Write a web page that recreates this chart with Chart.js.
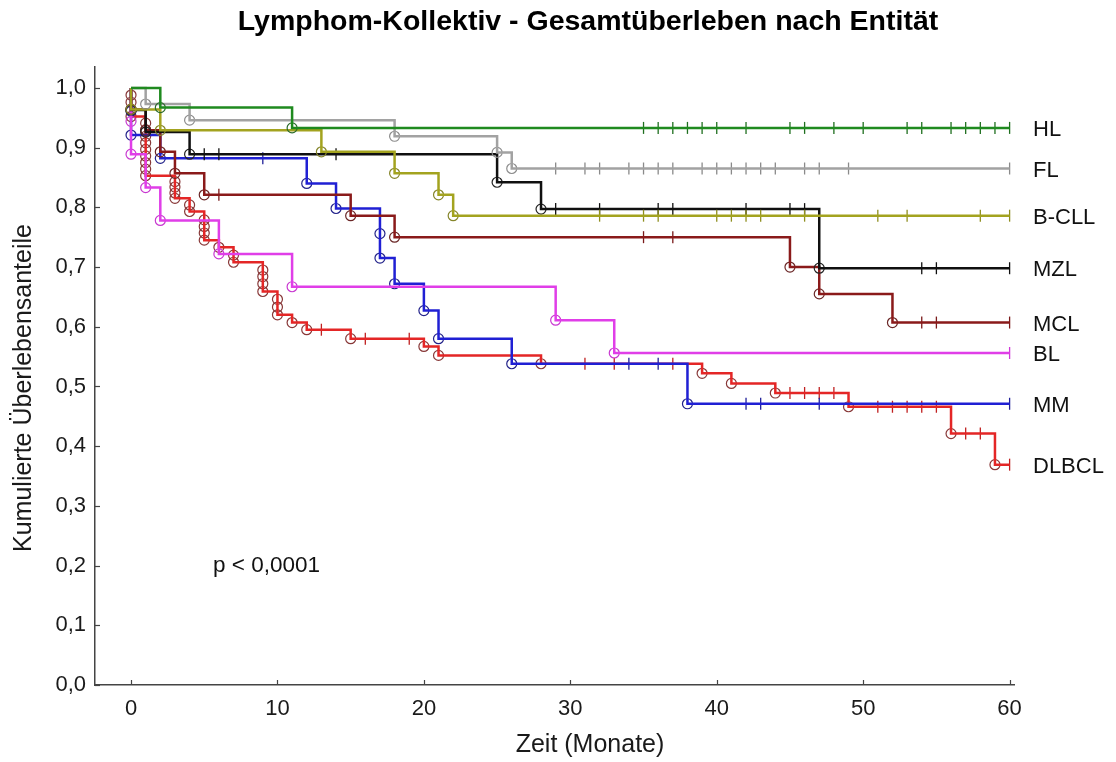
<!DOCTYPE html>
<html>
<head>
<meta charset="utf-8">
<script src="https://cdn.jsdelivr.net/npm/chart.js@4.4.1/dist/chart.umd.min.js"></script>
<style>
  html, body { margin: 0; padding: 0; background: #fff; }
  #wrap { width: 1116px; height: 762px; }
</style>
</head>
<body>
<div id="wrap"><canvas id="kmChart" width="1116" height="762"></canvas></div>
<script>
// Kaplan-Meier overall survival by lymphoma entity (months)
const groups = ['HL', 'FL', 'B-CLL', 'MZL', 'MCL', 'BL', 'MM', 'DLBCL'];
const xTicks = [0, 10, 20, 30, 40, 50, 60];
const yTicks = [0, 0.1, 0.2, 0.3, 0.4, 0.5, 0.6, 0.7, 0.8, 0.9, 1.0];
const yTickLabels = ['0,0', '0,1', '0,2', '0,3', '0,4', '0,5', '0,6', '0,7', '0,8', '0,9', '1,0'];
const followUpEnd = 60;

// event times (one entry per death) and the survival level after each event
const hlTimes = [2, 11];
const hlSurv = [0.967, 0.933];
const hlCensored = [35, 36, 37, 38, 39, 40, 42, 45, 46, 48, 50, 53, 54, 56, 57, 58, 59, 60];

const flTimes = [1, 4, 18, 25, 26];
const flSurv = [0.973, 0.946, 0.919, 0.892, 0.865];
const flCensored = [29, 31, 32, 34, 35, 36, 37, 39, 40, 41, 42, 43, 44, 46, 47, 49, 60];

const cllTimes = [0, 2, 13, 18, 21, 22];
const cllSurv = [0.964, 0.929, 0.893, 0.857, 0.821, 0.786];
const cllCensored = [32, 35, 36, 40, 41, 42, 43, 46, 51, 53, 58, 60];

const mzlTimes = [0, 1, 4, 25, 28, 47];
const mzlSurv = [0.963, 0.926, 0.889, 0.842, 0.797, 0.698];
const mzlCensored = [5, 6, 14, 29, 32, 36, 37, 42, 45, 46, 54, 55, 60];

const mclTimes = [0, 1, 2, 3, 5, 15, 18, 45, 47, 52];
const mclSurv = [0.964, 0.929, 0.893, 0.857, 0.821, 0.786, 0.75, 0.70, 0.655, 0.607];
const mclCensored = [6, 35, 37, 54, 55, 60];

const blTimes = [0, 0, 1, 2, 6, 11, 29, 33];
const blSurv = [0.944, 0.889, 0.833, 0.778, 0.722, 0.667, 0.611, 0.556];
const blCensored = [60];

const mmTimes = [0, 0, 2, 12, 14, 17, 17, 18, 20, 21, 26, 38];
const mmSurv = [0.961, 0.921, 0.882, 0.84, 0.798, 0.756, 0.715, 0.672, 0.627, 0.58, 0.538, 0.471];
const mmCensored = [9, 34, 36, 42, 43, 47, 60];

const dlbclTimes = [0, 0, 0, 0,
  1, 1, 1, 1, 1, 1, 1, 1, 1,
  3, 3, 3, 3, 4, 4, 5, 5, 5, 5, 6, 7, 7,
  9, 9, 9, 9, 10, 10, 10, 11, 12, 15, 20, 21, 28,
  39, 41, 44, 49, 56, 59];
const dlbclSurv = [0.988, 0.976, 0.964, 0.952,
  0.941, 0.930, 0.919, 0.908, 0.897, 0.886, 0.875, 0.864, 0.853,
  0.843, 0.834, 0.824, 0.815, 0.804, 0.793, 0.779, 0.768, 0.757, 0.745, 0.733, 0.720, 0.708,
  0.695, 0.684, 0.672, 0.659, 0.646, 0.633, 0.620, 0.607, 0.595, 0.580, 0.567, 0.552, 0.538,
  0.522, 0.505, 0.489, 0.466, 0.421, 0.369];
const dlbclCensored = [13, 16, 19, 31, 33, 37, 45, 46, 47, 48, 51, 52, 53, 54, 55, 57, 58, 60];

const seriesData = {
  'HL': [hlTimes, hlSurv, hlCensored],
  'FL': [flTimes, flSurv, flCensored],
  'B-CLL': [cllTimes, cllSurv, cllCensored],
  'MZL': [mzlTimes, mzlSurv, mzlCensored],
  'MCL': [mclTimes, mclSurv, mclCensored],
  'BL': [blTimes, blSurv, blCensored],
  'MM': [mmTimes, mmSurv, mmCensored],
  'DLBCL': [dlbclTimes, dlbclSurv, dlbclCensored]
};

const lineColors = {
  'HL': '#1f8a1f', 'FL': '#a2a2a2', 'B-CLL': '#a3a31f', 'MZL': '#101010',
  'MCL': '#8a1a1a', 'BL': '#e03ee8', 'MM': '#2020d4', 'DLBCL': '#e42626'
};
const circleColors = {
  'HL': '#2a6a2a', 'FL': '#8c8c8c', 'B-CLL': '#85852a', 'MZL': '#222222',
  'MCL': '#6a2626', 'BL': '#c838d0', 'MM': '#22228a', 'DLBCL': '#883838'
};
const tickColors = {
  'HL': '#1f6f1f', 'FL': '#8a8a8a', 'B-CLL': '#8f8f20', 'MZL': '#101010',
  'MCL': '#7a1a1a', 'BL': '#d038d8', 'MM': '#20209a', 'DLBCL': '#c02020'
};

function survAt(times, surv, t) {
  let s = 1.0;
  for (let i = 0; i < times.length; i++) {
    if (times[i] <= t) s = surv[i];
  }
  return s;
}

const datasets = [];
groups.forEach(function(name) {
  const [times, surv, cens] = seriesData[name];
  const curve = [{ x: 0, y: 1.0 }];
  times.forEach((t, i) => curve.push({ x: t, y: surv[i] }));
  curve.push({ x: followUpEnd, y: surv[surv.length - 1] });

  datasets.push({
    label: name,
    data: curve,
    stepped: 'before',
    borderColor: lineColors[name],
    borderWidth: 2.5,
    pointRadius: 0,
    fill: false
  });
  datasets.push({
    label: name + ' events',
    data: times.map((t, i) => ({ x: t, y: surv[i] })),
    showLine: false,
    pointStyle: 'circle',
    pointRadius: 5,
    pointBorderWidth: 1.2,
    pointBorderColor: circleColors[name],
    pointBackgroundColor: 'rgba(0,0,0,0)'
  });
  datasets.push({
    label: name + ' censored',
    data: cens.map(t => ({ x: t, y: survAt(times, surv, t) })),
    showLine: false,
    pointStyle: 'line',
    rotation: 90,
    pointRadius: 6,
    pointBorderWidth: 1.3,
    pointBorderColor: tickColors[name]
  });
});

const textFont = "'Liberation Sans', Arial, sans-serif";

// title, axis titles, inward tick marks, group labels at the curve ends, p-value
const kmDecor = {
  id: 'kmDecor',
  afterDraw(chart) {
    const { ctx, chartArea, scales: { x, y } } = chart;
    ctx.save();

    ctx.fillStyle = '#000';
    ctx.font = 'bold 28.5px ' + textFont;
    ctx.textAlign = 'center';
    ctx.textBaseline = 'middle';
    ctx.fillText('Lymphom-Kollektiv - Gesamtüberleben nach Entität', 588, 22);

    ctx.fillStyle = '#1a1a1a';
    ctx.font = '25px ' + textFont;
    ctx.fillText('Zeit (Monate)', 590, 745);
    ctx.save();
    ctx.translate(24, 388);
    ctx.rotate(-Math.PI / 2);
    ctx.fillText('Kumulierte Überlebensanteile', 0, 0);
    ctx.restore();

    ctx.strokeStyle = '#444';
    ctx.lineWidth = 1.2;
    xTicks.forEach(v => {
      const px = Math.round(x.getPixelForValue(v)) + 0.5;
      ctx.beginPath();
      ctx.moveTo(px, chartArea.bottom);
      ctx.lineTo(px, chartArea.bottom - 5);
      ctx.stroke();
    });
    yTicks.forEach(v => {
      const py = Math.round(y.getPixelForValue(v)) + 0.5;
      ctx.beginPath();
      ctx.moveTo(chartArea.left, py);
      ctx.lineTo(chartArea.left + 5, py);
      ctx.stroke();
    });

    ctx.fillStyle = '#111';
    ctx.font = '22px ' + textFont;
    ctx.textAlign = 'left';
    groups.forEach(name => {
      const surv = seriesData[name][1];
      ctx.fillText(name, chartArea.right + 19, y.getPixelForValue(surv[surv.length - 1]) + 2);
    });

    ctx.font = '22.5px ' + textFont;
    ctx.fillText('p < 0,0001', x.getPixelForValue(5.6), y.getPixelForValue(0.2));
    ctx.restore();
  }
};

const canvas = document.getElementById('kmChart');
const kmChart = new Chart(canvas.getContext('2d'), {
  type: 'line',
  data: { datasets: datasets },
  options: {
    responsive: false,
    animation: false,
    layout: { padding: { left: 0, right: 102, top: 67, bottom: 0 } },
    plugins: {
      legend: { display: false },
      tooltip: { enabled: false },
      title: { display: false }
    },
    scales: {
      x: {
        type: 'linear',
        min: -2.46,
        max: 60.3,
        afterBuildTicks: s => { s.ticks = xTicks.map(v => ({ value: v })); },
        afterFit: s => { s.height = 77; },
        grid: { display: false, drawTicks: false },
        border: { color: '#444', width: 1.5 },
        ticks: { color: '#1a1a1a', font: { family: textFont, size: 22 }, padding: 11, callback: v => String(v) }
      },
      y: {
        min: 0,
        max: 1.035,
        afterBuildTicks: s => { s.ticks = yTicks.map(v => ({ value: v })); },
        afterFit: s => { s.width = 95; },
        grid: { display: false, drawTicks: false },
        border: { color: '#444', width: 1.5 },
        ticks: {
          color: '#1a1a1a',
          font: { family: textFont, size: 22 },
          padding: 9,
          callback: (v, i) => yTickLabels[i]
        }
      }
    }
  },
  plugins: [kmDecor]
});
</script>
</body>
</html>
